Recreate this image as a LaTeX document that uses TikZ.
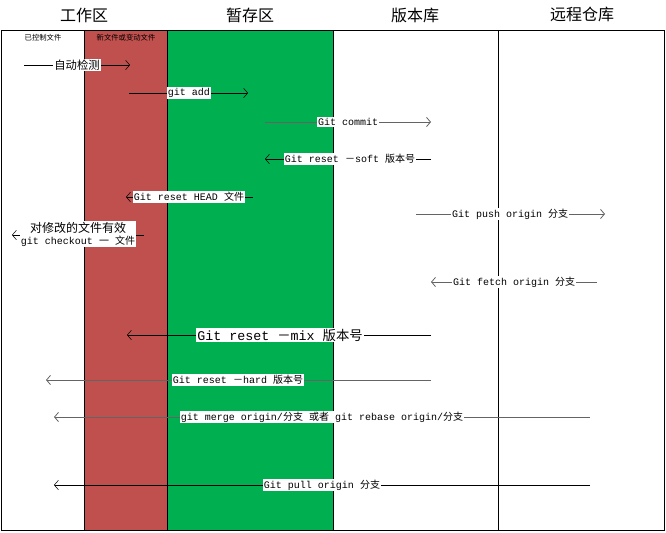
\documentclass[tikz,border=0pt]{standalone}
\usepackage{fontspec}
\setmainfont{Liberation Serif}
\setmonofont{Liberation Mono}
\newfontfamily\cjk{Noto Sans CJK SC}
\usetikzlibrary{arrows.meta, positioning}
\definecolor{workred}{RGB}{192,80,77}
\definecolor{stagegreen}{RGB}{0,176,80}
\definecolor{arrowgray}{RGB}{100,100,100}
\tikzset{
  zone/.style={font=\fontsize{12}{14}\selectfont\cjk},
  tag/.style={font=\fontsize{5.5}{6}\selectfont\cjk},
  cmd/.style={fill=white, inner sep=0.8pt, font=\fontsize{7.5}{9}\selectfont\ttfamily},
  note/.style={fill=white, inner sep=0.8pt, font=\fontsize{8.5}{10}\selectfont\cjk},
  dark/.style={draw=black},
  pale/.style={draw=arrowgray, line width=0.6pt}
}

\begin{document}
\begin{tikzpicture}[x=0.75pt, y=-0.75pt, thin, >={Straight Barb[length=3pt,width=7pt]}]
        \useasboundingbox (0,0) rectangle (666,532);
        % Areas
        \fill[workred] (84,30) rectangle (167,530);
        \fill[stagegreen] (167,30) rectangle (333,530);
        \draw (1,30) rectangle (664,530);
        \foreach \x in {84,167,333,498} \draw (\x,30) -- (\x,530);

        % Headers
        \node[zone] (work) at (84,15) {工作区};
        \node[zone] (stage) at (250,15) {暂存区};
        \node[zone] (repo) at (415,15) {版本库};
        \node[zone] (remote) at (582,14) {远程仓库};
        \node[tag] (tracked) at (43,38) {已控制文件};
        \node[tag] (changed) at (126,38) {新文件或变动文件};

        % Arrow ends
        \coordinate (s1) at (24,65);   \coordinate (e1) at (130,65);
        \coordinate (s2) at (129,93);  \coordinate (e2) at (248,93);
        \coordinate (s3) at (265,122); \coordinate (e3) at (431,122);
        \coordinate (s4) at (431,159); \coordinate (e4) at (265,159);
        \coordinate (s5) at (253,197); \coordinate (e5) at (126,197);
        \coordinate (s6) at (144,235); \coordinate (e6) at (12,235);
        \coordinate (s7) at (416,214); \coordinate (e7) at (605,214);
        \coordinate (s8) at (597,282); \coordinate (e8) at (431,282);
        \coordinate (s9) at (431,335); \coordinate (e9) at (127,335);
        \coordinate (s10) at (431,380); \coordinate (e10) at (46,380);
        \coordinate (s11) at (590,417); \coordinate (e11) at (54,417);
        \coordinate (s12) at (590,485); \coordinate (e12) at (54,485);

        % Directed edges
        \draw[->, dark] (s1) -- (e1);
        \draw[->, dark] (s2) -- (e2);
        \draw[->, pale] (s3) -- (e3);
        \draw[->, dark] (s4) -- (e4);
        \draw[->, dark] (s5) -- (e5);
        \draw[->, dark] (s6) -- (e6);
        \draw[->, pale] (s7) -- (e7);
        \draw[->, pale] (s8) -- (e8);
        \draw[->, dark] (s9) -- (e9);
        \draw[->, pale] (s10) -- (e10);
        \draw[->, pale] (s11) -- (e11);
        \draw[->, dark] (s12) -- (e12);

        % Labels
        \node[note] (auto) at (77,65) {自动检测};
        \node[cmd] (add) at (189,93) {git add};
        \node[cmd] (commit) at (348,122) {Git commit};
        \node[cmd] (soft) at (350,159) {Git reset {\cjk －}soft {\cjk 版本号}};
        \node[cmd] (head) at (189,197) {Git reset HEAD {\cjk 文件}};
        \node[cmd, align=center] (checkout) at (78,234)
          {{\fontsize{9}{10}\selectfont\cjk 对修改的文件有效}\\git checkout {\cjk 一} {\cjk 文件}};
        \node[cmd] (push) at (510,214) {Git push origin {\cjk 分支}};
        \node[cmd] (fetch) at (514,282) {Git fetch origin {\cjk 分支}};
        \node[cmd, font=\fontsize{10}{12}\selectfont\ttfamily] (mix) at (280,335) {Git reset {\cjk －}mix {\cjk 版本号}};
        \node[cmd] (hard) at (238,380) {Git reset {\cjk －}hard {\cjk 版本号}};
        \node[cmd] (merge) at (322,417) {git merge origin/{\cjk 分支} {\cjk 或者} git rebase origin/{\cjk 分支}};
        \node[cmd] (pull) at (322,485) {Git pull origin {\cjk 分支}};
    \end{tikzpicture}
\end{document}
